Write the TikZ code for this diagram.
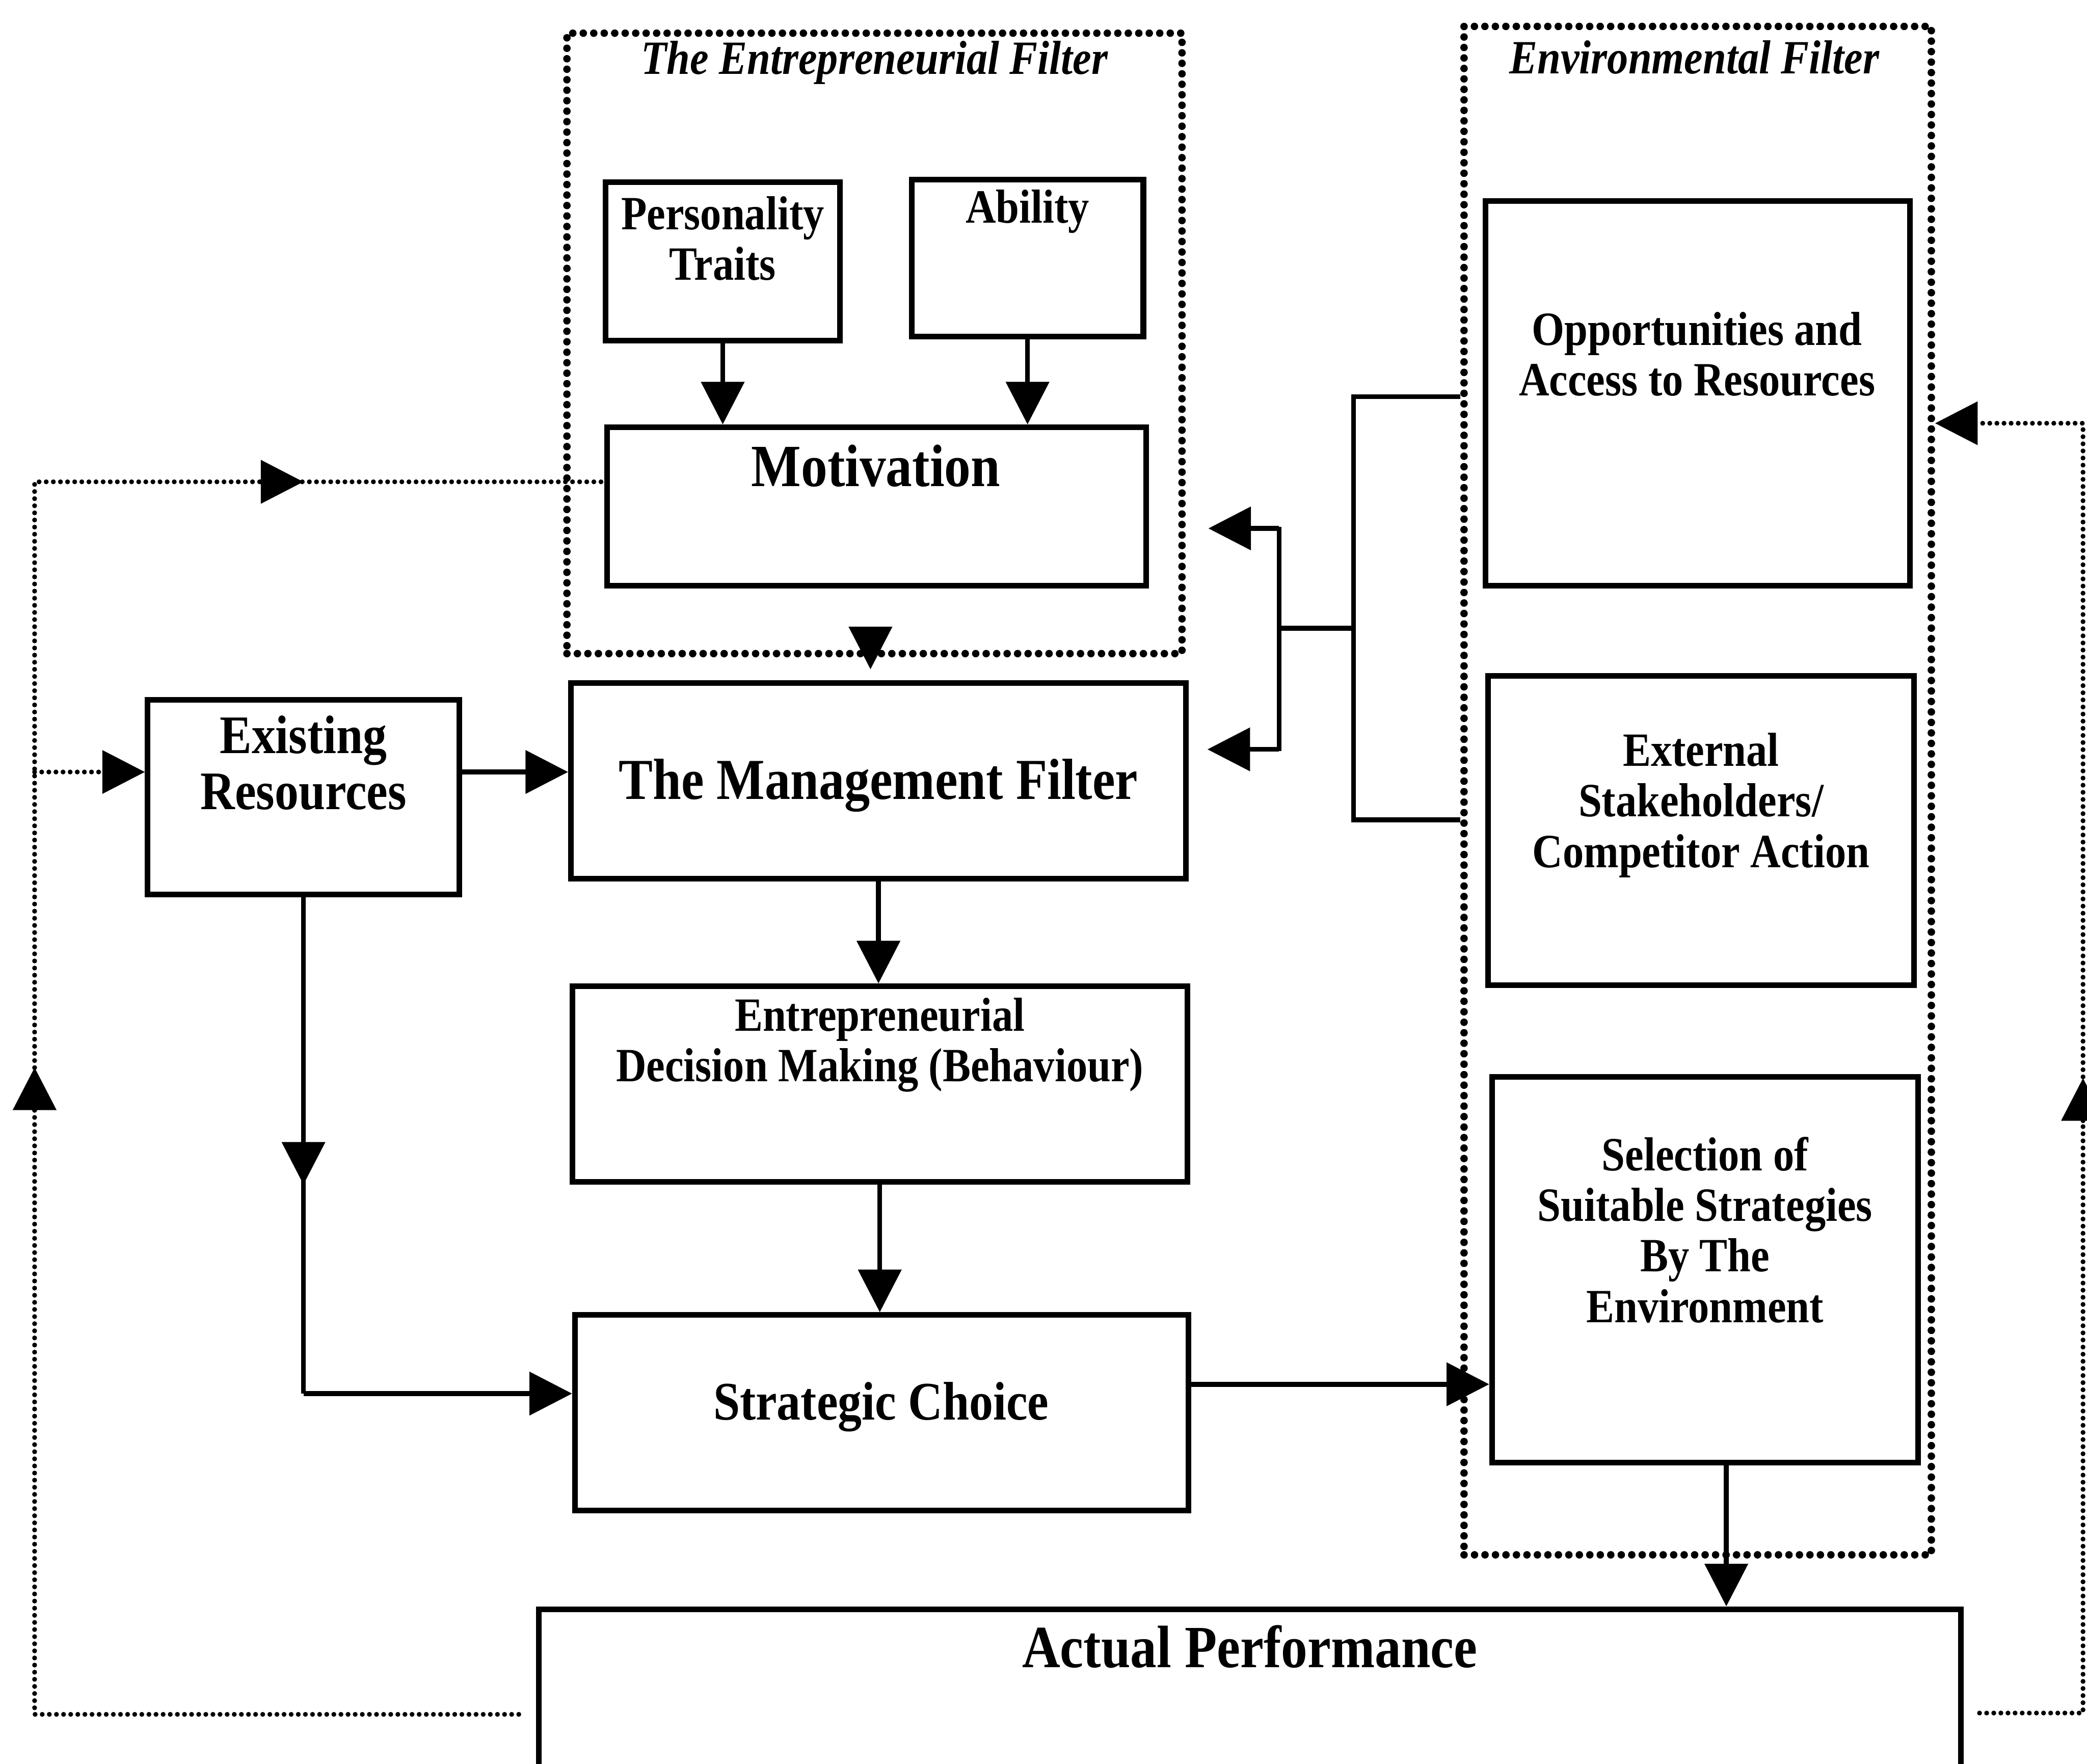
\documentclass[tikz,border=0pt]{standalone}
\usepackage{fontspec}
\setmainfont[FakeStretch=0.88]{Liberation Serif}
\usetikzlibrary{arrows.meta,calc}
\begin{document}
\begin{tikzpicture}[x=0.025cm,y=-0.025cm,
  box/.style={draw, line width=3pt, inner sep=0pt},
  dotbox/.style={draw, line width=4pt, line cap=round, dash pattern=on 0pt off 5.6pt, inner sep=0pt},
  conn/.style={line width=2.6pt},
  arr/.style={conn, -{Triangle[length=0.8cm,width=0.8cm]}},
  fb/.style={line width=2.6pt, line cap=round, dash pattern=on 0pt off 3.8pt},
  fbarr/.style={fb, -{Triangle[length=0.8cm,width=0.8cm]}},
  txt/.style={inner sep=0pt, align=center},
  fbig/.style={font=\bfseries\fontsize{31}{33}\selectfont},
  fmid/.style={font=\bfseries\fontsize{29}{30}\selectfont},
  fsml/.style={font=\bfseries\fontsize{25.5}{27}\selectfont},
  ftitle/.style={font=\bfseries\itshape\fontsize{25.5}{27}\selectfont},
]
\useasboundingbox (0,0) rectangle (1568,1325);
\clip (0,0) rectangle (1568,1325);

% ---------- boxes ----------
\node[dotbox, minimum width=11.55cm, minimum height=11.65cm] (entf) at (657,258) {};
\node[box, minimum width=4.4cm, minimum height=2.975cm] (pers) at (543,196.5) {};
\node[box, minimum width=4.35cm, minimum height=2.95cm] (abil) at (772,194) {};
\node[box, minimum width=10.125cm, minimum height=2.975cm] (motiv) at (658.5,380.5) {};
\node[box, minimum width=11.55cm, minimum height=3.675cm] (mgmt) at (660,586.5) {};
\node[box, minimum width=5.85cm, minimum height=3.65cm] (exist) at (228,599) {};
\node[box, minimum width=11.55cm, minimum height=3.675cm] (edm) at (661,814.5) {};
\node[box, minimum width=11.525cm, minimum height=3.675cm] (strat) at (662.5,1061.5) {};
\node[dotbox, minimum width=8.775cm, minimum height=28.7cm] (envf) at (1275.5,594) {};
\node[box, minimum width=7.975cm, minimum height=7.225cm] (opp) at (1275.5,295.5) {};
\node[box, minimum width=8cm, minimum height=5.8cm] (ext) at (1278,624) {};
\node[box, minimum width=8cm, minimum height=7.25cm] (sel) at (1281,954) {};
\node[box, minimum width=26.7cm, minimum height=3.4cm] (perf) at (939,1277) {};

% ---------- texts ----------
\node[txt, ftitle] (entft) at (657,47) {The Entrepreneurial Filter};
\node[txt, ftitle] (envft) at (1273,43) {Environmental Filter};
\node[txt, fsml] (perst) at (543,179) {Personality\\Traits};
\node[txt, fsml] (abilt) at (772,159) {Ability};
\node[txt, font=\bfseries\fontsize{32}{34}\selectfont] (motivt) at (658,350) {Motivation};
\node[txt, fmid] (existt) at (228,573) {Existing\\Resources};
\node[txt, fbig] (mgmtt) at (660,590) {The Management Filter};
\node[txt, fsml] (edmt) at (661,785) {Entrepreneurial\\Decision Making (Behaviour)};
\node[txt, fmid] (stratt) at (662,1057) {Strategic Choice};
\node[txt, fsml] (oppt) at (1275,266) {Opportunities and\\Access to Resources};
\node[txt, fsml] (extt) at (1278,605) {External\\Stakeholders/\\Competitor Action};
\node[txt, fsml] (selt) at (1281,924) {Selection of\\Suitable Strategies\\By The\\Environment};
\node[txt, font=\bfseries\fontsize{32}{34}\selectfont] (perft) at (939,1237) {Actual Performance};

% ---------- connectors ----------
\draw[arr] (pers.south) -- (pers.south |- motiv.north);
\draw[arr] (abil.south) -- (abil.south |- motiv.north);
\coordinate (mtop) at (654,474);
\draw[arr, shorten >=0.2cm] (mtop) -- (mtop |- mgmt.north);
\draw[arr] (exist.east |- 0,580) -- (mgmt.west |- 0,580);
\draw[arr] (mgmt.south) -- (mgmt.south |- edm.north);
\draw[arr] (edm.south) -- (edm.south |- strat.north);

\coordinate (emid) at (228,858);
\coordinate (emidtip) at (228,890);
\coordinate (ecorner) at (228,1047);
\draw[conn] (exist.south) -- (ecorner);
\draw[arr] (emid) -- (emidtip);
\draw[arr] (ecorner) -- (strat.west |- ecorner);

\draw[arr] (strat.east |- 0,1040) -- (sel.west |- 0,1040);
\draw[arr] (sel.south -| 1297,0) -- (perf.north -| 1297,0);

% bracket from environmental filter
\coordinate (bt) at (1017,298);
\coordinate (bb) at (1017,616);
\coordinate (bm) at (1017,472);
\coordinate (cm) at (961,472);
\coordinate (ct) at (961,397);
\coordinate (cb) at (961,563);
\draw[conn] (envf.west |- bt) -- (bt) -- (bb) -- (envf.west |- bb);
\draw[conn] (bm) -- (cm);
\draw[conn] ([yshift=0.03cm]ct) -- ([yshift=-0.03cm]cb);
\draw[arr, shorten >=0.425cm] (ct) -- (entf.east |- ct);
\draw[arr, shorten >=0.35cm] (cb) -- (mgmt.east |- cb);

% left feedback loop
\coordinate (lb) at (26,1288);
\coordinate (lt) at (26,362);
\draw[fb, shorten <=0.325cm] (perf.west |- lb) -- (lb) -- (lt) -- (motiv.west |- lt);
\coordinate (lua) at (26,834);
\coordinate (lub) at (26,802);
\draw[fbarr] (lua) -- (lub);
\coordinate (lra) at (196,362);
\coordinate (lrb) at (228,362);
\draw[fbarr] (lra) -- (lrb);
\coordinate (lbr) at (26,580);
\draw[fbarr] (lbr) -- (exist.west |- lbr);

% right feedback loop
\coordinate (rb) at (1565,1287);
\coordinate (rt) at (1565,318);
\draw[fbarr, shorten <=0.3cm] (perf.east |- rb) -- (rb) -- (rt) -- (envf.east |- rt);
\coordinate (rua) at (1565,842);
\coordinate (rub) at (1565,810);
\draw[fbarr] (rua) -- (rub);
\end{tikzpicture}
\end{document}
